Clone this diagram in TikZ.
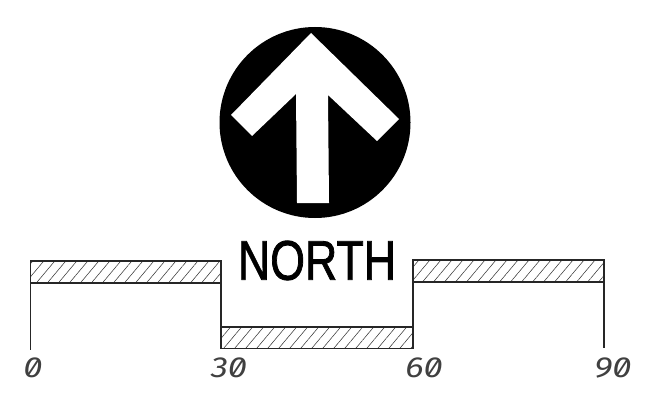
\documentclass[tikz,border=0pt]{standalone}
\usepackage{fontspec}
\setmainfont{Liberation Sans}
\newfontfamily\tickfont[RawFeature=+zero]{Fira Sans}
\newfontfamily\northfont[FakeBold=1.6]{Liberation Sans}
\usetikzlibrary{patterns.meta}
\tikzset{
  hatchbar/.style={draw=black!85,line width=0.7pt,
    pattern={Lines[angle=50,distance=4.8pt,line width=0.3pt]},pattern color=black!80},
  wall/.style={black!85,line width=0.6pt},
  ticklabel/.style={font=\tickfont\itshape\fontsize{16.5}{16.5}\selectfont,inner sep=0pt,text=black!75,xscale=1.2},
}
\begin{document}
\begin{tikzpicture}[x=0.02cm,y=-0.02cm]
\useasboundingbox (0,0) rectangle (645,405);
% north sign
\fill[black] (315,122.5) circle[radius=95.5];
\fill[white] (311,33) -- (399,119) -- (377,141) -- (328,95) -- (329,203)
  -- (297,203) -- (296,94) -- (252,136) -- (231,115) -- cycle;
\node[inner sep=0pt,xscale=0.8] (north) at (317,260.5)
  {\fontsize{31.8}{31.8}\northfont NORTH};
% walls
\draw[wall] (30.5,283) -- (30.5,350);
\draw[wall] (221,283) -- (221,327);
\draw[wall] (413,282) -- (413,327);
\draw[wall] (604,282) -- (604,348);
% hatched bars
\draw[hatchbar] (30.5,261) rectangle (221,283);
\draw[hatchbar] (221,327) rectangle (413,348.5);
\draw[hatchbar] (413,260) rectangle (604,282);
% ticks
\node[ticklabel] (t0) at (33,368) {0};
\node[ticklabel] (t30) at (229,368) {30};
\node[ticklabel] (t60) at (424,368) {60};
\node[ticklabel] (t90) at (613,368) {90};
\end{tikzpicture}
\end{document}
